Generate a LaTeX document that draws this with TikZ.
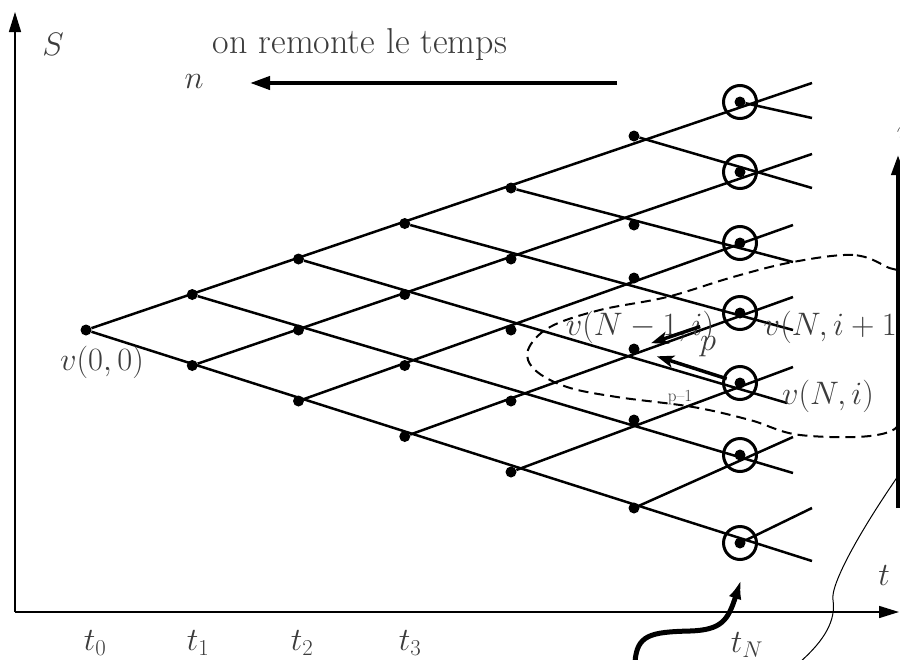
\RequirePackage{fix-cm}
\documentclass[tikz,border=0pt]{standalone}
\usepackage{tikz}
\usetikzlibrary{arrows.meta}
\definecolor{latgray}{RGB}{60,60,60}

\begin{document}
\begin{tikzpicture}[x=1pt,y=-1pt,
    dot/.style={circle,fill=black,inner sep=0pt,minimum size=11pt},
    endnode/.style={circle,draw=black,line width=3pt,inner sep=0pt,minimum size=33pt},
    branch/.style={line width=2.5pt},
    lbl/.style={text=latgray,font=\fontsize{32.5}{38}\selectfont,inner sep=0pt},
    axis/.style={line width=1.5pt,-{Triangle[length=20pt,width=12pt]}},
    bigarrow/.style={line width=4pt,-{Triangle[length=20pt,width=13pt]}},
    probarrow/.style={line width=3.5pt,-{Stealth[length=17pt,width=12pt,inset=4pt]}}]
    \useasboundingbox (0,0) rectangle (900,659);
    \clip (0,0) rectangle (900,659);

    % Axes
    \coordinate (O) at (15,612);
    \coordinate (ytop) at (15,12);
    \coordinate (xend) at (899,612);
    \draw[axis] (O) -- (ytop);
    \draw[axis] (O) -- (xend);

    % Lattice nodes
    \foreach \k in {0,...,4}
        \foreach \j in {0,...,\k}
            \node[dot] (n\k-\j) at ({86+106.25*\k},{330+35.5*(\k-2*\j)}) {};
    \foreach \y [count=\j from 0] in {508,420,349,278,225,136}
        \node[dot] (n5-\j) at (634,\y) {};
    \foreach \y [count=\j from 0] in {543,455,383,313,243,172,102} {
        \node[dot] (n6-\j) at (740,\y) {};
        \node[endnode] (c\j) at (740,\y) {};
    }

    % Branches up and down
    \foreach \ex/\ey [count=\k from 0] in {812/83,812/154,793/225,793/297,793/367,793/437,812/508} {
        \coordinate (up\k) at (\ex,\ey);
        \draw[branch] (n\k-0) -- (up\k);
    }
    \foreach \ex/\ey [count=\k from 0] in {812/561,793/473,787/403,793/330,793/262,812/188,812/118} {
        \coordinate (dn\k) at (\ex,\ey);
        \draw[branch] (n\k-\k) -- (dn\k);
    }

    % Labels
    \node[lbl] (S) at (53,44) {$S$};
    \node[lbl,font=\fontsize{36}{42}\selectfont] (title) at (360,45) {on remonte le temps};
    \node[lbl] (n) at (194,82) {$n$};
    \node[lbl] (v00) at (102,362) {$v(0,0)$};
    \foreach \x/\i in {95/0,198/1,302/2,410/3}
        \node[lbl] (t\i) at (\x,643) {$t_\i$};
    \node[lbl] (tN) at (747,645) {$t_N$};
    \node[lbl] (t) at (884,575) {$t$};
    \node[lbl] (vNm) at (640,327) {$v(N-1,i)$};
    \node[lbl] (p) at (708,347) {$p$};
    \node[lbl] (vNp) at (836,327) {$v(N,i+1)$};
    \node[lbl] (vN) at (828,396) {$v(N,i)$};
    \node[lbl,font=\fontsize{17}{20}\selectfont] (q) at (680,398) {p--1};
    \node[lbl] (vtop) at (905,134) {$v$};

    % Time arrows
    \coordinate (ta) at (617,83);
    \coordinate (tb) at (250,83);
    \draw[bigarrow] (ta) -- (tb);
    \coordinate (ra) at (898,508);
    \coordinate (rb) at (898,155);
    \draw[bigarrow] (ra) -- (rb);

    % Probabilities
    \draw[probarrow,shorten <=42pt,shorten >=18pt] (n6-3.center) -- (n5-2.center);
    \draw[probarrow,shorten <=14pt,shorten >=24pt] (n6-2.center) -- (n5-2.center);

    % Dashed zone
    \draw[line width=2pt,dash pattern=on 10pt off 6pt] plot[smooth cycle,tension=0.6] coordinates {
        (887,267) (853,255) (793,262) (733,277) (667,297) (600,310) (550,327) (528,350)
        (535,370) (567,387) (617,397) (693,407) (750,420) (800,435) (877,435) (905,415)
        (925,350) (905,280)};

    % Curves at the bottom
    \coordinate (wa) at (635,662);
    \coordinate (wb) at (741,580);
    \draw[line width=5pt,-{Latex[length=19pt,width=13pt]}] (wa) .. controls (637,635) and (650,632) .. (690,631)
        .. controls (722,630) and (728,620) .. (wb);
    \coordinate (sa) at (800,662);
    \coordinate (sb) at (905,466);
    \draw[line width=1pt] (sa) .. controls (825,640) and (836,620) .. (833,600)
        .. controls (830,585) and (860,530) .. (sb);
\end{tikzpicture}
\end{document}
